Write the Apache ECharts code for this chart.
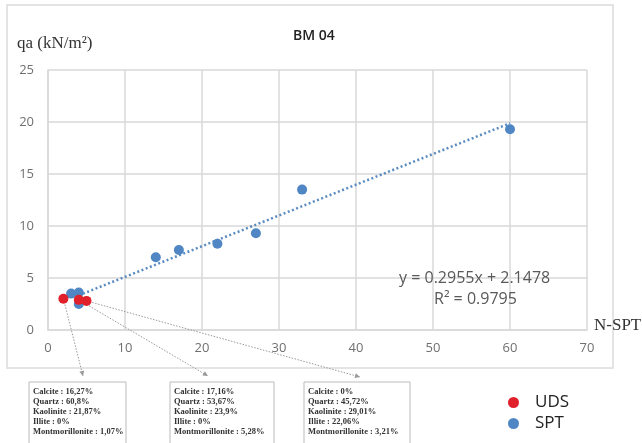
<!DOCTYPE html>
<html>
<head>
<meta charset="utf-8">
<script src="https://cdn.jsdelivr.net/npm/echarts@6/dist/echarts.min.js"></script>
<style>
html,body{margin:0;padding:0;background:#fff;}
#c{width:642px;height:443px;}
</style>
</head>
<body>
<div id="c"></div>
<script>
// ---- data ----
var udsX = [2, 4, 5];
var udsY = [3.0, 2.9, 2.8];
var sptX = [3, 4, 4, 14, 17, 22, 27, 33, 60];
var sptY = [3.5, 3.6, 2.5, 7.0, 7.7, 8.3, 9.3, 13.5, 19.3];
var trendX = [4, 60];
var trendY = [3.33, 19.88];
var xTicks = [0, 10, 20, 30, 40, 50, 60, 70];
var yTicks = [0, 5, 10, 15, 20, 25];
var equationText = ['y = 0.2955x + 2.1478', 'R\u00b2 = 0.9795'];
var boxTexts = [
  ['Calcite : 16,27%', 'Quartz : 60,8%', 'Kaolinite : 21,87%', 'Illite : 0%', 'Montmorillonite : 1,07%'],
  ['Calcite : 17,16%', 'Quartz : 53,67%', 'Kaolinite : 23,9%', 'Illite : 0%', 'Montmorillonite : 5,28%'],
  ['Calcite : 0%', 'Quartz : 45,72%', 'Kaolinite : 29,01%', 'Illite : 22,06%', 'Montmorillonite : 3,21%']
];

function pairs(xs, ys) { return xs.map(function (x, i) { return [x, ys[i]]; }); }

var chart = echarts.init(document.getElementById('c'));
var BLUE = '#4f86c3';
var RED = '#e0202b';
var GRID = '#d9d9d9';
var LABEL = '#707070';

var option = {
  backgroundColor: '#fff',
  animation: false,
  grid: { left: 48, right: 55, top: 70, bottom: 113, show: false },
  xAxis: {
    type: 'value', min: xTicks[0], max: xTicks[xTicks.length - 1], interval: 10,
    axisLine: { show: true, lineStyle: { color: GRID, width: 1.5 } },
    axisTick: { show: false },
    splitLine: { show: true, lineStyle: { color: GRID, width: 1.5 } },
    axisLabel: { color: LABEL, fontSize: 13, fontFamily: 'Open Sans', margin: 12 }
  },
  yAxis: {
    type: 'value', min: yTicks[0], max: yTicks[yTicks.length - 1], interval: 5,
    axisLine: { show: true, lineStyle: { color: GRID, width: 1.5 } },
    axisTick: { show: false },
    splitLine: { show: true, lineStyle: { color: GRID, width: 1.5 } },
    axisLabel: { color: LABEL, fontSize: 13, fontFamily: 'Open Sans', margin: 14 }
  },
  legend: {
    orient: 'vertical', left: 503, top: 389, itemGap: 4,
    icon: 'circle', itemWidth: 11, itemHeight: 11,
    data: ['UDS', 'SPT'],
    textStyle: { fontSize: 17, color: '#222', fontFamily: 'Open Sans', padding: [0, 0, 0, 11] }
  },
  series: [
    {
      name: 'trend', type: 'line', data: pairs(trendX, trendY),
      symbol: 'none', silent: true,
      lineStyle: { color: '#5a8bc0', width: 2.5, type: [2, 2.5] }, z: 2
    },
    {
      name: 'SPT', type: 'scatter', data: pairs(sptX, sptY),
      symbolSize: 10, itemStyle: { color: BLUE, opacity: 1 }, z: 3
    },
    {
      name: 'UDS', type: 'scatter', data: pairs(udsX, udsY),
      symbolSize: 10, itemStyle: { color: RED, opacity: 1 }, z: 4
    }
  ]
};
chart.setOption(option);

// ---- annotations ----
var boxes = [
  { x: 29, w: 97, tip: [83, 376] },
  { x: 170, w: 104, tip: [208, 376] },
  { x: 304, w: 106, tip: [360, 377] }
];
var g = [];
g.push({ type: 'rect', shape: { x: 7, y: 5, width: 606, height: 363 }, style: { fill: 'none', stroke: '#dcdcdc', lineWidth: 1.5 }, z: -1 });
g.push({ type: 'text', left: 293, top: 29, style: { text: 'BM 04', font: '600 14px "Open Sans"', fill: '#222' } });
g.push({ type: 'text', left: 17, top: 35, style: { text: 'qa (kN/m\u00b2)', font: '17px "Liberation Serif"', fill: '#333' } });
g.push({ type: 'text', left: 594, top: 317, style: { text: 'N-SPT', font: '17px "Liberation Serif"', fill: '#333' } });
g.push({ type: 'text', left: 399, top: 270, style: { text: equationText[0], font: '16px "Open Sans"', fill: '#595959' } });
g.push({ type: 'text', left: 434, top: 291, style: { text: equationText[1], font: '16px "Open Sans"', fill: '#595959' } });

boxes.forEach(function (b, i) {
  var p = chart.convertToPixel({ gridIndex: 0 }, [udsX[i], udsY[i]]);
  g.push({ type: 'line', shape: { x1: p[0], y1: p[1], x2: b.tip[0], y2: b.tip[1] },
    style: { stroke: '#9a9a9a', lineWidth: 1, lineDash: [1.5, 1.5] }, z: 1 });
  var ang = Math.atan2(b.tip[1] - p[1], b.tip[0] - p[0]);
  var L = 5, W = 2.5;
  var bx = b.tip[0] - L * Math.cos(ang), by = b.tip[1] - L * Math.sin(ang);
  g.push({ type: 'polygon', shape: { points: [
    [b.tip[0], b.tip[1]],
    [bx + W * Math.sin(ang), by - W * Math.cos(ang)],
    [bx - W * Math.sin(ang), by + W * Math.cos(ang)]
  ] }, style: { fill: '#9a9a9a' } });
  g.push({ type: 'rect', shape: { x: b.x, y: 382, width: b.w, height: 70 }, style: { fill: '#fff', stroke: '#bbbbbb', lineWidth: 1 } });
  g.push({ type: 'text', left: b.x + 4, top: 387, style: { text: boxTexts[i].join('\n'), font: 'bold 8.5px "Liberation Serif"', lineHeight: 10, fill: '#333' } });
});
chart.setOption({ graphic: g });
</script>
</body>
</html>
